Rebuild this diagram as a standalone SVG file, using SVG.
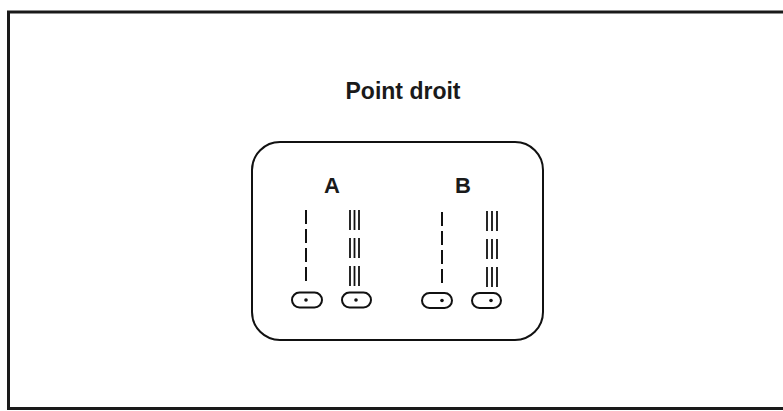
<svg xmlns="http://www.w3.org/2000/svg" width="783" height="411" viewBox="0 0 783 411">
<style>
.frame{fill:none;stroke:#1a1a1a;stroke-width:3}
.box{fill:none;stroke:#111;stroke-width:2}
.lbl{font-family:"Liberation Sans",Arial,sans-serif;font-weight:bold;fill:#1a1a1a;text-anchor:middle}
.dash{stroke:#111;stroke-width:2;stroke-dasharray:14 5}
.trip{stroke:#111;stroke-width:1.8;stroke-dasharray:20 8}
.eye{fill:none;stroke:#111;stroke-width:2}
.dot{fill:#111}
</style>
<rect width="783" height="411" fill="#fff"/>
<g id="frame">
<path class="frame" d="M783 12 H8.5 V408.5 H783"/>
</g>
<g id="title"><text class="lbl" x="403" y="99" font-size="23">Point droit</text></g>
<g id="panel"><rect class="box" x="252" y="142" width="291" height="198" rx="28"/></g>
<g id="A">
<text class="lbl" x="332" y="193" font-size="22">A</text>
<g id="A-left">
<line class="dash" x1="306" y1="210" x2="306" y2="286"/>
<rect class="eye" x="292" y="292.5" width="30" height="15" rx="7.5"/>
<circle class="dot" cx="306" cy="300" r="1.8"/>
</g>
<g id="A-right">
<line class="trip" x1="350" y1="210" x2="350" y2="288"/>
<line class="trip" x1="354.5" y1="210" x2="354.5" y2="288"/>
<line class="trip" x1="359" y1="210" x2="359" y2="288"/>
<rect class="eye" x="342" y="292.5" width="29" height="15" rx="7.5"/>
<circle class="dot" cx="356" cy="300" r="1.8"/>
</g>
</g>
<g id="B">
<text class="lbl" x="463" y="193" font-size="22">B</text>
<g id="B-left">
<line class="dash" x1="442" y1="212" x2="442" y2="287"/>
<rect class="eye" x="422" y="293" width="30" height="15" rx="7.5"/>
<circle class="dot" cx="442" cy="300.5" r="1.8"/>
</g>
<g id="B-right">
<line class="trip" x1="487" y1="211" x2="487" y2="289"/>
<line class="trip" x1="492" y1="211" x2="492" y2="289"/>
<line class="trip" x1="497" y1="211" x2="497" y2="289"/>
<rect class="eye" x="472" y="293" width="29" height="15" rx="7.5"/>
<circle class="dot" cx="491" cy="300.5" r="1.8"/>
</g>
</g>
<g id="connectors"/>
</svg>
